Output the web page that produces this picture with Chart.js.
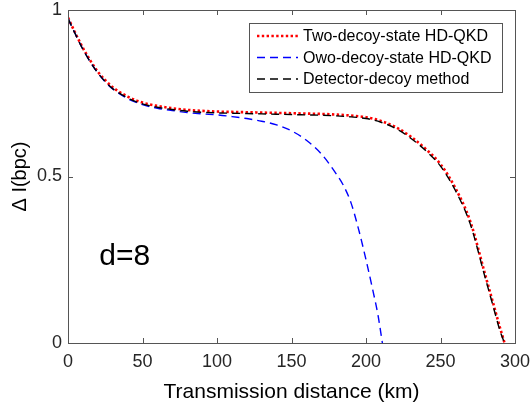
<!DOCTYPE html>
<html>
<head>
<meta charset="utf-8">
<style>
  html, body { margin: 0; padding: 0; background: #fff; }
  #wrap { width: 531px; height: 406px; position: relative; }
</style>
<script src="https://cdn.jsdelivr.net/npm/chart.js@4/dist/chart.umd.min.js"></script>
</head>
<body>
<div id="wrap"><canvas id="c" width="531" height="406"></canvas></div>
<script>
// Data
const distA = [0, 5, 10, 15, 20, 25, 30, 40, 50, 60, 70, 80, 90, 100, 110, 120, 130, 140, 150,
  160, 170, 180, 190, 200, 210, 220, 230, 240, 250, 260, 270, 280, 285, 290, 293];
const twoDecoy = [0.977, 0.93, 0.886, 0.848, 0.815, 0.789, 0.768, 0.740, 0.722, 0.712, 0.705, 0.700,
  0.697, 0.695, 0.694, 0.693, 0.692, 0.691, 0.690, 0.689, 0.688, 0.686, 0.683, 0.678, 0.667,
  0.648, 0.620, 0.583, 0.537, 0.465, 0.365, 0.205, 0.125, 0.045, 0];
const detectorDecoy = [0.975, 0.927, 0.882, 0.844, 0.811, 0.785, 0.764, 0.736, 0.718, 0.708, 0.701, 0.696,
  0.693, 0.691, 0.690, 0.689, 0.688, 0.687, 0.686, 0.685, 0.684, 0.682, 0.679, 0.674, 0.663,
  0.644, 0.615, 0.578, 0.531, 0.458, 0.357, 0.196, 0.116, 0.036, 0];
const distB = [0, 5, 10, 15, 20, 25, 30, 40, 50, 60, 70, 80, 90, 100, 110, 120, 130, 140, 150,
  160, 170, 180, 185, 190, 195, 200, 205, 208, 211];
const owoDecoy = [0.975, 0.927, 0.882, 0.844, 0.811, 0.784, 0.763, 0.734, 0.716, 0.705, 0.698, 0.692,
  0.688, 0.685, 0.680, 0.674, 0.666, 0.655, 0.637, 0.609, 0.568, 0.508, 0.472, 0.420, 0.342,
  0.250, 0.150, 0.085, 0];
const seriesLabels = ["Two-decoy-state HD-QKD", "Owo-decoy-state HD-QKD", "Detector-decoy method"];

const FONT = "'Liberation Sans', Arial, Helvetica, sans-serif";
const AXIS = "#262626";

function pts(xs, ys) { return xs.map((x, i) => ({ x: x, y: ys[i] })); }

// box, inward ticks, legend and the d=8 note
const matlabBox = {
  id: "matlabBox",
  afterDraw(chart) {
    const ctx = chart.ctx;
    const a = chart.chartArea;
    const xs = chart.scales.x, ys = chart.scales.y;
    ctx.save();
    ctx.strokeStyle = "#555";
    ctx.lineWidth = 1;
    ctx.strokeRect(Math.round(a.left) + 0.5, Math.round(a.top) + 0.5,
      Math.round(a.right - a.left), Math.round(a.bottom - a.top));
    ctx.beginPath();
    xs.ticks.forEach(t => {
      const p = Math.round(xs.getPixelForValue(t.value)) + 0.5;
      ctx.moveTo(p, a.bottom); ctx.lineTo(p, a.bottom - 5);
      ctx.moveTo(p, a.top); ctx.lineTo(p, a.top + 5);
    });
    ys.ticks.forEach(t => {
      const p = Math.round(ys.getPixelForValue(t.value)) + 0.5;
      ctx.moveTo(a.left, p); ctx.lineTo(a.left + 5, p);
      ctx.moveTo(a.right, p); ctx.lineTo(a.right - 5, p);
    });
    ctx.stroke();

    // annotation
    ctx.fillStyle = "#000";
    ctx.font = "30px " + FONT;
    ctx.textBaseline = "middle";
    ctx.textAlign = "left";
    ctx.fillText("d=8", xs.getPixelForValue(21), ys.getPixelForValue(0.258));

    // legend
    const lx = 249.5, ly = 23.5, lw = 253, lh = 69;
    ctx.fillStyle = "#fff";
    ctx.fillRect(lx, ly, lw, lh);
    ctx.strokeStyle = "#555";
    ctx.strokeRect(lx, ly, lw, lh);
    const rows = [36, 57.5, 79];
    ctx.font = "16px " + FONT;
    chart.data.datasets.forEach((ds, r) => {
      ctx.strokeStyle = ds.borderColor;
      ctx.lineWidth = ds.borderWidth;
      ctx.setLineDash(ds.borderDash || []);
      ctx.beginPath();
      ctx.moveTo(257, rows[r]);
      ctx.lineTo(298, rows[r]);
      ctx.stroke();
      ctx.setLineDash([]);
      ctx.fillStyle = "#000";
      ctx.fillText(ds.label, 303, rows[r] + 1);
    });
    ctx.restore();
  }
};

new Chart(document.getElementById("c"), {
  type: "line",
  data: {
    datasets: [
      {
        label: seriesLabels[0], data: pts(distA, twoDecoy),
        borderColor: "#ff0000", borderWidth: 2.6, borderDash: [2.4, 2.4], order: 2
      },
      {
        label: seriesLabels[1], data: pts(distB, owoDecoy),
        borderColor: "#0000ff", borderWidth: 1.4, borderDash: [8, 5], order: 1
      },
      {
        label: seriesLabels[2], data: pts(distA, detectorDecoy),
        borderColor: "#000000", borderWidth: 1.4, borderDash: [8, 5], order: 0
      }
    ].map(d => Object.assign(d, { pointRadius: 0, fill: false, cubicInterpolationMode: "monotone" }))
  },
  options: {
    responsive: false,
    animation: false,
    layout: { padding: { top: 10, right: 16, left: 0, bottom: 0 } },
    plugins: { legend: { display: false }, tooltip: { enabled: false } },
    scales: {
      x: {
        type: "linear", min: 0, max: 300,
        grid: { display: false, drawTicks: false },
        border: { display: false },
        ticks: { stepSize: 50, padding: 10, color: AXIS, font: { family: FONT, size: 18, lineHeight: 1 } },
        title: { display: true, text: "Transmission distance (km)", color: "#000",
          font: { family: FONT, size: 21 }, padding: { top: 0, bottom: 1 } },
        afterFit(s) { s.height = 63; s.paddingLeft = 0; s.paddingRight = 0; }
      },
      y: {
        min: 0, max: 1,
        grid: { display: false, drawTicks: false },
        border: { display: false },
        ticks: { stepSize: 0.5, padding: 6, color: AXIS, font: { family: FONT, size: 18, lineHeight: 1 },
          callback: v => String(v) },
        title: { display: true, text: "Δ I(bpc)", color: "#000",
          font: { family: FONT, size: 20 }, padding: { top: 8, bottom: 0 } },
        afterFit(s) { s.width = 68; s.paddingTop = 0; s.paddingBottom = 0; }
      }
    }
  },
  plugins: [matlabBox]
});
</script>
</body>
</html>
